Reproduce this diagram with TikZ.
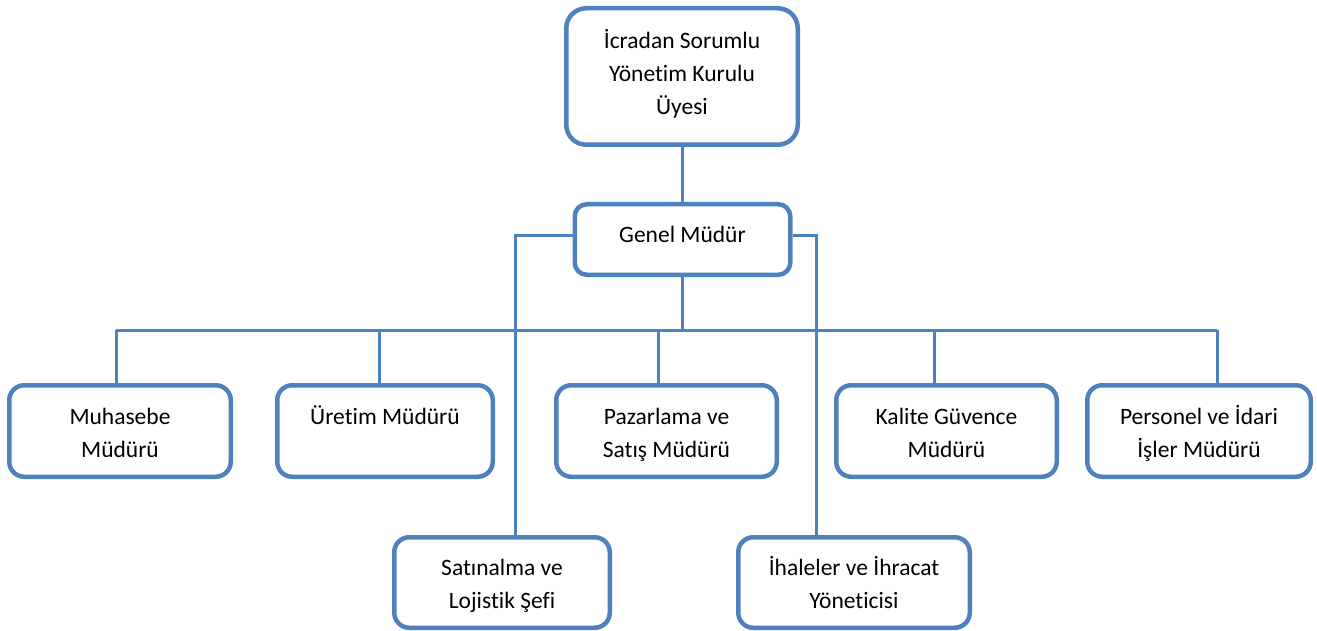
\documentclass[tikz,border=0pt]{standalone}
\usepackage{fontspec}
\setmainfont{Carlito}[Ligatures={NoCommon}]
\usetikzlibrary{backgrounds}
\definecolor{boxblue}{HTML}{4F81BD}
\tikzset{
  box/.style={draw=boxblue, line width=4.5pt, fill=white, rounded corners=15pt, inner sep=0pt},
  conn/.style={draw=boxblue, line width=3pt},
  txt/.style={anchor=north, inner sep=0pt, align=center, text=black,
              font=\fontsize{23.5}{33}\selectfont},
}
\begin{document}
\begin{tikzpicture}[x=1pt, y=-1pt]
\useasboundingbox (0,0) rectangle (1317,631);
% boxes
\node[box, minimum width=231.5pt, minimum height=136.5pt, rounded corners=20pt] (top) at (682,76.5) {};
\node[box, minimum width=215.5pt, minimum height=70.5pt, rounded corners=12pt] (genel) at (682.5,239.5) {};
\node[box, minimum width=221.5pt, minimum height=91.5pt] (muh) at (120,431) {};
\node[box, minimum width=215.5pt, minimum height=91.5pt] (uret) at (385,431) {};
\node[box, minimum width=220.5pt, minimum height=91.5pt] (paz) at (666.5,431) {};
\node[box, minimum width=220.5pt, minimum height=91.5pt] (kal) at (946.5,431) {};
\node[box, minimum width=223.5pt, minimum height=91.5pt] (per) at (1199,431) {};
\node[box, minimum width=215.5pt, minimum height=90.5pt] (sat) at (502,582.5) {};
\node[box, minimum width=231.5pt, minimum height=90.5pt] (iha) at (854,582.5) {};
% texts
\node[txt] (topT) at ([yshift=-19pt]top.north) {\strut İcradan Sorumlu\\Yönetim Kurulu\\Üyesi};
\node[txt] (genelT) at ([yshift=-17pt]genel.north) {\strut Genel Müdür};
\node[txt] (muhT) at ([yshift=-18pt]muh.north) {\strut Muhasebe\\Müdürü};
\node[txt] (uretT) at ([yshift=-18pt]uret.north) {\strut Üretim Müdürü};
\node[txt] (pazT) at ([yshift=-18pt]paz.north) {\strut Pazarlama ve\\Satış Müdürü};
\node[txt] (kalT) at ([yshift=-18pt]kal.north) {\strut Kalite Güvence\\Müdürü};
\node[txt] (perT) at ([yshift=-18pt]per.north) {\strut Personel ve İdari\\İşler Müdürü};
\node[txt] (satT) at ([yshift=-17pt]sat.north) {\strut Satınalma ve\\Lojistik Şefi};
\node[txt] (ihaT) at ([yshift=-17pt]iha.north) {\strut İhaleler ve İhracat\\Yöneticisi};
% connector points
\coordinate (dMuh) at (116,330);
\coordinate (dUret) at (379,330);
\coordinate (dPaz) at (658,330);
\coordinate (dKal) at (934,330);
\coordinate (dPer) at (1217,330);
\coordinate (kL) at (515,236);
\coordinate (kR) at (816,236);
\begin{pgfonlayer}{background}
\draw[conn] (top.south -| genel.north) -- (genel.north);
\draw[conn] (genel.south) -- (genel.south |- dMuh);
\draw[conn] (dMuh) -- (dPer);
\draw[conn] (dMuh) -- (dMuh |- muh.north);
\draw[conn] (dUret) -- (dUret |- uret.north);
\draw[conn] (dPaz) -- (dPaz |- paz.north);
\draw[conn] (dKal) -- (dKal |- kal.north);
\draw[conn] (dPer) -- (dPer |- per.north);
\draw[conn] (genel.west |- kL) -- (kL) -- (kL |- sat.north);
\draw[conn] (genel.east |- kR) -- (kR) -- (kR |- iha.north);
\end{pgfonlayer}
\end{tikzpicture}
\end{document}
